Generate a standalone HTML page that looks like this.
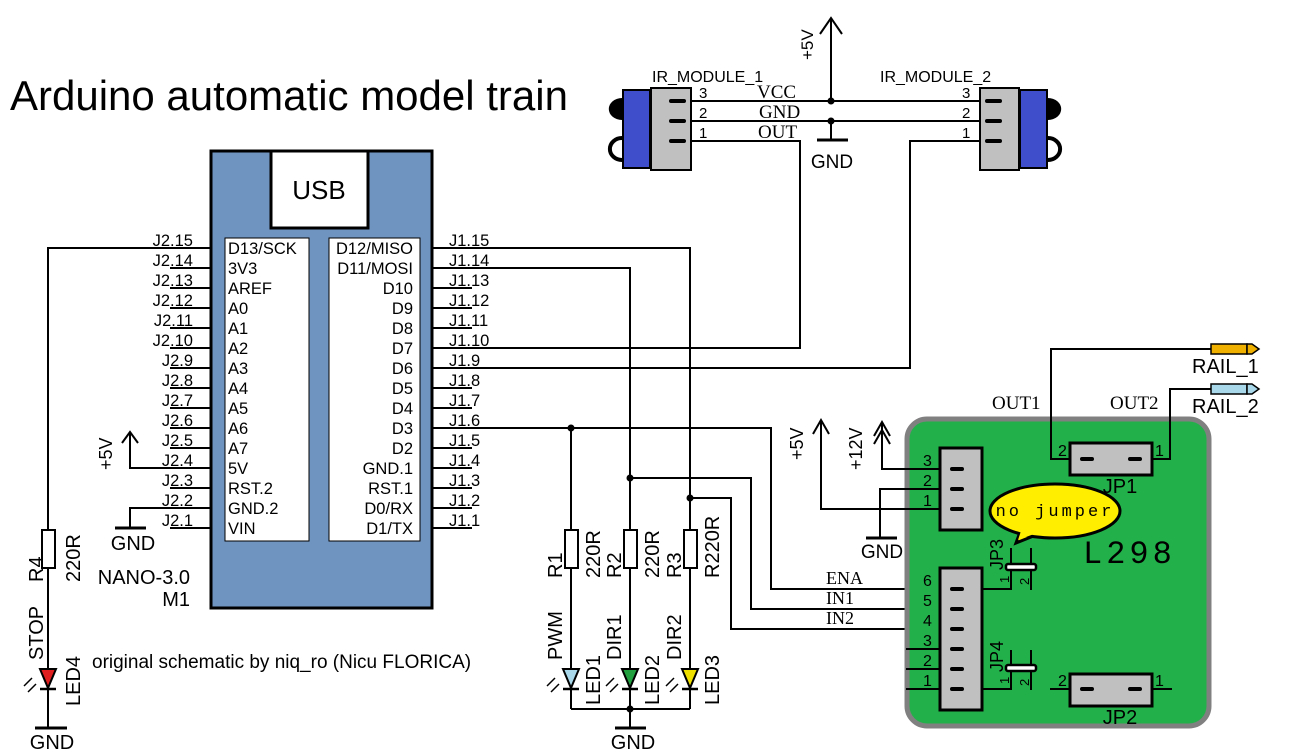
<!DOCTYPE html>
<html><head><meta charset="utf-8"><style>
html,body{margin:0;padding:0;background:#fff}
svg{display:block}
text{font-family:"Liberation Sans",sans-serif;fill:#000}
.s{font-family:"Liberation Serif",serif}
.m{font-family:"Liberation Mono",monospace}
</style></head><body>
<svg width="1290" height="756" viewBox="0 0 1290 756" xmlns="http://www.w3.org/2000/svg">
<text x="10" y="110" font-size="42">Arduino automatic model train</text>

<!-- Nano -->
<rect x="211" y="151" width="221" height="457" fill="#7094c0" stroke="#000" stroke-width="3"/>
<rect x="271" y="151" width="97" height="77" fill="#fff" stroke="#000" stroke-width="3"/>
<text x="319" y="199" font-size="26" text-anchor="middle">USB</text>
<rect x="225" y="238" width="84" height="303" fill="#fff" stroke="#000" stroke-width="1"/>
<rect x="329" y="238" width="91" height="303" fill="#fff" stroke="#000" stroke-width="1"/>
<g font-size="16.5">
<text x="228" y="254">D13/SCK</text><text x="228" y="274">3V3</text><text x="228" y="294">AREF</text>
<text x="228" y="314">A0</text><text x="228" y="334">A1</text><text x="228" y="354">A2</text>
<text x="228" y="374">A3</text><text x="228" y="394">A4</text><text x="228" y="414">A5</text>
<text x="228" y="434">A6</text><text x="228" y="454">A7</text><text x="228" y="474">5V</text>
<text x="228" y="494">RST.2</text><text x="228" y="514">GND.2</text><text x="228" y="534">VIN</text>
</g>
<g font-size="16.5" text-anchor="end">
<text x="413" y="254">D12/MISO</text><text x="413" y="274">D11/MOSI</text><text x="413" y="294">D10</text>
<text x="413" y="314">D9</text><text x="413" y="334">D8</text><text x="413" y="354">D7</text>
<text x="413" y="374">D6</text><text x="413" y="394">D5</text><text x="413" y="414">D4</text>
<text x="413" y="434">D3</text><text x="413" y="454">D2</text><text x="413" y="474">GND.1</text>
<text x="413" y="494">RST.1</text><text x="413" y="514">D0/RX</text><text x="413" y="534">D1/TX</text>
</g>
<g stroke="#000" stroke-width="2">
<line x1="170" y1="248" x2="211" y2="248"/><line x1="170" y1="268" x2="211" y2="268"/><line x1="170" y1="288" x2="211" y2="288"/>
<line x1="170" y1="308" x2="211" y2="308"/><line x1="170" y1="328" x2="211" y2="328"/><line x1="170" y1="348" x2="211" y2="348"/>
<line x1="170" y1="368" x2="211" y2="368"/><line x1="170" y1="388" x2="211" y2="388"/><line x1="170" y1="408" x2="211" y2="408"/>
<line x1="170" y1="428" x2="211" y2="428"/><line x1="170" y1="448" x2="211" y2="448"/><line x1="170" y1="468" x2="211" y2="468"/>
<line x1="170" y1="488" x2="211" y2="488"/><line x1="170" y1="508" x2="211" y2="508"/><line x1="170" y1="528" x2="211" y2="528"/>
<line x1="432" y1="248" x2="472" y2="248"/><line x1="432" y1="268" x2="472" y2="268"/><line x1="432" y1="288" x2="472" y2="288"/>
<line x1="432" y1="308" x2="472" y2="308"/><line x1="432" y1="328" x2="472" y2="328"/><line x1="432" y1="348" x2="472" y2="348"/>
<line x1="432" y1="368" x2="472" y2="368"/><line x1="432" y1="388" x2="472" y2="388"/><line x1="432" y1="408" x2="472" y2="408"/>
<line x1="432" y1="428" x2="472" y2="428"/><line x1="432" y1="448" x2="472" y2="448"/><line x1="432" y1="468" x2="472" y2="468"/>
<line x1="432" y1="488" x2="472" y2="488"/><line x1="432" y1="508" x2="472" y2="508"/><line x1="432" y1="528" x2="472" y2="528"/>
</g>
<g font-size="16.5" text-anchor="end">
<text x="193" y="246">J2.15</text><text x="193" y="266">J2.14</text><text x="193" y="286">J2.13</text>
<text x="193" y="306">J2.12</text><text x="193" y="326">J2.11</text><text x="193" y="346">J2.10</text>
<text x="193" y="366">J2.9</text><text x="193" y="386">J2.8</text><text x="193" y="406">J2.7</text>
<text x="193" y="426">J2.6</text><text x="193" y="446">J2.5</text><text x="193" y="466">J2.4</text>
<text x="193" y="486">J2.3</text><text x="193" y="506">J2.2</text><text x="193" y="526">J2.1</text>
</g>
<g font-size="16.5">
<text x="449" y="246">J1.15</text><text x="449" y="266">J1.14</text><text x="449" y="286">J1.13</text>
<text x="449" y="306">J1.12</text><text x="449" y="326">J1.11</text><text x="449" y="346">J1.10</text>
<text x="449" y="366">J1.9</text><text x="449" y="386">J1.8</text><text x="449" y="406">J1.7</text>
<text x="449" y="426">J1.6</text><text x="449" y="446">J1.5</text><text x="449" y="466">J1.4</text>
<text x="449" y="486">J1.3</text><text x="449" y="506">J1.2</text><text x="449" y="526">J1.1</text>
</g>
<text x="190" y="584" font-size="20" text-anchor="end">NANO-3.0</text>
<text x="190" y="606" font-size="20" text-anchor="end">M1</text>

<!-- left side wiring -->
<g stroke="#000" stroke-width="2" fill="none">
<polyline points="170,248 48,248 48,530"/>
<rect x="42" y="530" width="13" height="38" fill="#fff"/>
<line x1="48" y1="568" x2="48" y2="728"/>
<line x1="35" y1="728" x2="67" y2="728" stroke-width="3"/>
<polyline points="170,468 130,468 130,432"/>
<polyline points="122,443 130,432 138,443"/>
<polyline points="170,508 130,508 130,528"/>
<line x1="115" y1="528" x2="146" y2="528" stroke-width="3"/>
</g>
<polygon points="40,669 56,669 48,688" fill="#e02020" stroke="#000" stroke-width="2"/>
<line x1="40" y1="689" x2="56" y2="689" stroke="#000" stroke-width="2.5"/>
<g stroke="#000" stroke-width="1.5"><line x1="32" y1="678" x2="24" y2="686"/><line x1="36" y1="684" x2="28" y2="692"/></g>
<text x="52" y="749" font-size="20" text-anchor="middle">GND</text>
<text x="133" y="550" font-size="20" text-anchor="middle">GND</text>
<text transform="translate(112,470) rotate(-90)" font-size="18">+5V</text>
<text transform="translate(43,582) rotate(-90)" font-size="20">R4</text>
<text transform="translate(80,582) rotate(-90)" font-size="20">220R</text>
<text transform="translate(43,660) rotate(-90)" font-size="20">STOP</text>
<text transform="translate(80,706) rotate(-90)" font-size="20">LED4</text>
<text x="92" y="668" font-size="19">original schematic by niq_ro (Nicu FLORICA)</text>

<!-- right side wiring -->
<g stroke="#000" stroke-width="2" fill="none">
<polyline points="472,248 690,248 690,530"/>
<polyline points="472,268 630,268 630,530"/>
<polyline points="472,428 771,428 771,589 940,589"/>
<polyline points="630,478 751,478 751,609 940,609"/>
<polyline points="690,498 731,498 731,629 940,629"/>
<line x1="571" y1="428" x2="571" y2="530"/>
<polyline points="472,348 800,348 800,150"/>
<polyline points="472,368 910,368 910,150"/>
<rect x="565" y="530" width="13" height="38" fill="#fff"/>
<rect x="624" y="530" width="13" height="38" fill="#fff"/>
<rect x="684" y="530" width="13" height="38" fill="#fff"/>
<line x1="571" y1="568" x2="571" y2="709"/><line x1="630" y1="568" x2="630" y2="728"/><line x1="690" y1="568" x2="690" y2="709"/>
<line x1="571" y1="709" x2="690" y2="709"/>
<line x1="615" y1="728" x2="646" y2="728" stroke-width="3"/>
</g>
<g fill="#000">
<circle cx="571" cy="428" r="3.5"/><circle cx="630" cy="478" r="3.5"/><circle cx="690" cy="498" r="3.5"/><circle cx="630" cy="709" r="3.5"/>
<circle cx="831" cy="101" r="3.5"/><circle cx="831" cy="121" r="3.5"/>
</g>
<polygon points="563,669 579,669 571,688" fill="#a8d8ea" stroke="#000" stroke-width="2"/>
<polygon points="622,669 638,669 630,688" fill="#22a040" stroke="#000" stroke-width="2"/>
<polygon points="682,669 698,669 690,688" fill="#f0e000" stroke="#000" stroke-width="2"/>
<g stroke="#000" stroke-width="2.5"><line x1="563" y1="689" x2="579" y2="689"/><line x1="622" y1="689" x2="638" y2="689"/><line x1="682" y1="689" x2="698" y2="689"/></g>
<g stroke="#000" stroke-width="1.5">
<line x1="555" y1="678" x2="547" y2="686"/><line x1="559" y1="684" x2="551" y2="692"/>
<line x1="614" y1="678" x2="606" y2="686"/><line x1="618" y1="684" x2="610" y2="692"/>
<line x1="674" y1="678" x2="666" y2="686"/><line x1="678" y1="684" x2="670" y2="692"/>
</g>
<g font-size="20">
<text transform="translate(562,578) rotate(-90)">R1</text><text transform="translate(600,578) rotate(-90)">220R</text>
<text transform="translate(621,578) rotate(-90)">R2</text><text transform="translate(659,578) rotate(-90)">220R</text>
<text transform="translate(681,578) rotate(-90)">R3</text><text transform="translate(719,578) rotate(-90)">R220R</text>
<text transform="translate(562,660) rotate(-90)">PWM</text><text transform="translate(621,660) rotate(-90)">DIR1</text><text transform="translate(681,660) rotate(-90)">DIR2</text>
<text transform="translate(600,705) rotate(-90)">LED1</text><text transform="translate(659,705) rotate(-90)">LED2</text><text transform="translate(719,705) rotate(-90)">LED3</text>
</g>
<text x="633" y="749" font-size="20" text-anchor="middle">GND</text>
<g font-size="18"><text x="826" y="584" class="s">ENA</text><text x="826" y="604" class="s">IN1</text><text x="826" y="624" class="s">IN2</text></g>

<!-- IR modules -->
<g stroke="#000" stroke-width="2" fill="none">
<line x1="670" y1="101" x2="980" y2="101"/><line x1="670" y1="121" x2="980" y2="121"/>
<polyline points="670,141 800,141 800,150"/><polyline points="1000,141 910,141 910,150"/>
<line x1="831" y1="18" x2="831" y2="101"/><polyline points="820,34 831,18 842,34"/>
<line x1="831" y1="121" x2="831" y2="140"/><line x1="817" y1="140" x2="848" y2="140" stroke-width="3"/>
</g>
<path d="M622,98 a12,10 0 0 0 0,22" fill="#000"/>
<path d="M622,138 a11,10 0 0 0 0,22" fill="none" stroke="#000" stroke-width="4"/>
<rect x="623" y="90" width="27" height="78" fill="#3f4fcc" stroke="#000" stroke-width="2"/>
<rect x="651" y="88" width="40" height="82" fill="#c0c0c0" stroke="#000" stroke-width="2"/>
<path d="M1048,98 a12,10 0 0 1 0,22" fill="#000"/>
<path d="M1048,138 a11,10 0 0 1 0,22" fill="none" stroke="#000" stroke-width="4"/>
<rect x="1020" y="90" width="27" height="78" fill="#3f4fcc" stroke="#000" stroke-width="2"/>
<rect x="980" y="88" width="39" height="82" fill="#c0c0c0" stroke="#000" stroke-width="2"/>
<g stroke="#000" stroke-width="4" stroke-linecap="round">
<line x1="671" y1="101" x2="684" y2="101"/><line x1="671" y1="121" x2="684" y2="121"/><line x1="671" y1="141" x2="684" y2="141"/>
<line x1="987" y1="101" x2="1000" y2="101"/><line x1="987" y1="121" x2="1000" y2="121"/><line x1="987" y1="141" x2="1000" y2="141"/>
</g>
<g font-size="15"><text x="699" y="98">3</text><text x="699" y="118">2</text><text x="699" y="138">1</text>
<text x="962" y="98">3</text><text x="962" y="118">2</text><text x="962" y="138">1</text></g>
<g font-size="19"><text x="757" y="98" class="s">VCC</text><text x="759" y="118" class="s">GND</text><text x="758" y="138" class="s">OUT</text></g>
<text x="652" y="82" font-size="16">IR_MODULE_1</text>
<text x="880" y="82" font-size="16">IR_MODULE_2</text>
<text transform="translate(813,60) rotate(-90)" font-size="17">+5V</text>
<text x="832" y="168" font-size="19" text-anchor="middle">GND</text>

<!-- L298 board -->
<rect x="907" y="419" width="302" height="307" rx="20" fill="#22b04a" stroke="#808080" stroke-width="5"/>
<g stroke="#000" stroke-width="2" fill="none">
<polyline points="940,469 882,469 882,422"/><polyline points="874,436 882,422 890,436"/><polyline points="874,444 882,430 890,444"/>
<polyline points="940,509 821,509 821,420"/><polyline points="813,434 821,420 829,434"/>
<polyline points="940,489 880,489 880,538"/><line x1="866" y1="538" x2="897" y2="538" stroke-width="3"/>
<line x1="906" y1="649" x2="940" y2="649"/><line x1="906" y1="669" x2="940" y2="669"/><line x1="906" y1="689" x2="940" y2="689"/>
<polyline points="1080,459 1051,459 1051,349 1212,349"/>
<polyline points="1140,459 1170,459 1170,389 1212,389"/>
<line x1="1050" y1="689" x2="1172" y2="689"/>
<polyline points="960,589 1011,589 1011,548"/><line x1="1031" y1="548" x2="1031" y2="590"/>
<polyline points="960,689 1011,689 1011,650"/><line x1="1031" y1="650" x2="1031" y2="690"/>
</g>
<text x="882" y="558" font-size="19" text-anchor="middle">GND</text>
<text transform="translate(803,460) rotate(-90)" font-size="18">+5V</text>
<text transform="translate(862,470) rotate(-90)" font-size="18">+12V</text>
<rect x="940" y="448" width="42" height="82" fill="#c0c0c0" stroke="#000" stroke-width="3"/>
<rect x="940" y="568" width="42" height="142" fill="#c0c0c0" stroke="#000" stroke-width="3"/>
<rect x="1070" y="443" width="82" height="32" fill="#c0c0c0" stroke="#000" stroke-width="3"/>
<rect x="1070" y="674" width="82" height="32" fill="#c0c0c0" stroke="#000" stroke-width="3"/>
<g stroke="#000" stroke-width="4" stroke-linecap="round">
<line x1="952" y1="469" x2="962" y2="469"/><line x1="952" y1="489" x2="962" y2="489"/><line x1="952" y1="509" x2="962" y2="509"/>
<line x1="952" y1="589" x2="962" y2="589"/><line x1="952" y1="609" x2="962" y2="609"/><line x1="952" y1="629" x2="962" y2="629"/>
<line x1="952" y1="649" x2="962" y2="649"/><line x1="952" y1="669" x2="962" y2="669"/><line x1="952" y1="689" x2="962" y2="689"/>
<line x1="1082" y1="459" x2="1092" y2="459"/><line x1="1130" y1="459" x2="1140" y2="459"/>
<line x1="1082" y1="689" x2="1092" y2="689"/><line x1="1130" y1="689" x2="1140" y2="689"/>
</g>
<rect x="1006" y="564" width="30" height="6" rx="2" fill="#fff" stroke="#000" stroke-width="2.5"/>
<rect x="1006" y="665" width="30" height="6" rx="2" fill="#fff" stroke="#000" stroke-width="2.5"/>
<g font-size="16">
<text x="923" y="466">3</text><text x="923" y="486">2</text><text x="923" y="506">1</text>
<text x="923" y="586">6</text><text x="923" y="606">5</text><text x="923" y="626">4</text>
<text x="923" y="646">3</text><text x="923" y="666">2</text><text x="923" y="686">1</text>
<text x="1058" y="456">2</text><text x="1155" y="456">1</text>
<text x="1058" y="686">2</text><text x="1155" y="686">1</text>
<text transform="translate(1009,583) rotate(-90)" font-size="13">1</text>
<text transform="translate(1029,585) rotate(-90)" font-size="13">2</text>
<text transform="translate(1009,684) rotate(-90)" font-size="13">1</text>
<text transform="translate(1029,686) rotate(-90)" font-size="13">2</text>
</g>
<text x="1120" y="493" font-size="20" text-anchor="middle">JP1</text>
<text x="1120" y="724" font-size="20" text-anchor="middle">JP2</text>
<text transform="translate(1003,570) rotate(-90)" font-size="18">JP3</text>
<text transform="translate(1003,672) rotate(-90)" font-size="18">JP4</text>
<text x="1083" y="563" font-size="32" class="m" letter-spacing="4">L298</text>
<path d="M1020,532 L1016,543 L1036,535 Z" fill="#ffee00" stroke="#000" stroke-width="3"/>
<ellipse cx="1055" cy="511" rx="65" ry="27" fill="#ffee00" stroke="#000" stroke-width="3"/>
<path d="M1021,531 L1018,540 L1034,534 Z" fill="#ffee00"/>
<text x="1055" y="516" font-size="17" class="m" letter-spacing="3" text-anchor="middle">no jumper</text>
<text x="992" y="409" font-size="19" class="s">OUT1</text>
<text x="1110" y="409" font-size="19" class="s">OUT2</text>
<!-- plugs -->
<rect x="1211" y="344" width="36" height="10" fill="#f0b000" stroke="#000" stroke-width="1.5"/>
<path d="M1247,344 L1252,344 L1259,349 L1252,354 L1247,354 Z" fill="#f0b000" stroke="#000" stroke-width="1.5"/>
<rect x="1211" y="384" width="36" height="10" fill="#a8d8ea" stroke="#000" stroke-width="1.5"/>
<path d="M1247,384 L1252,384 L1259,389 L1252,394 L1247,394 Z" fill="#a8d8ea" stroke="#000" stroke-width="1.5"/>
<text x="1192" y="373" font-size="20">RAIL_1</text>
<text x="1192" y="413" font-size="20">RAIL_2</text>
</svg>
</body></html>
